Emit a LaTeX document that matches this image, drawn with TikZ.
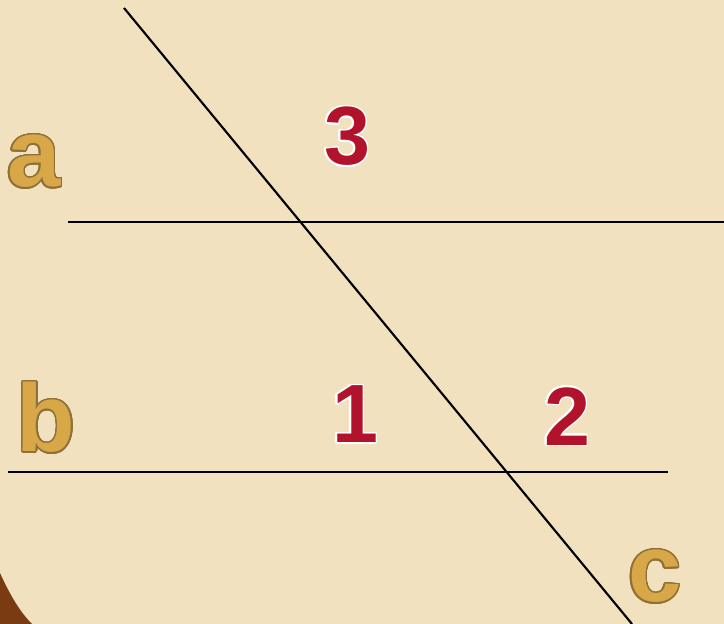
\documentclass[tikz,border=0pt]{standalone}
\usepackage{fontspec}
\setmainfont{Liberation Sans}
\usepackage{contour}
\usepackage{tikz}
\usetikzlibrary{positioning}

\definecolor{parchment}{HTML}{F1E1BE}
\definecolor{corner}{HTML}{7A3A12}
\definecolor{gold}{HTML}{D8A748}
\definecolor{goldedge}{HTML}{8E7038}
\definecolor{anglered}{HTML}{B3122C}

\contourlength{1.1pt}
\contournumber{24}

\tikzset{
  linelabel/.style={inner sep=0pt, font=\fontsize{72}{72}\selectfont\bfseries, text=gold},
  anglelabel/.style={inner sep=0pt, font=\fontsize{62}{62}\selectfont\bfseries, text=anglered},
  transversal/.style={line width=1.6pt, black}
}

\newcommand{\goldtext}[1]{\contour{goldedge}{#1}}
\newcommand{\redtext}[1]{\contour{white}{#1}}

\begin{document}
\begin{tikzpicture}[x=0.75pt,y=-0.75pt]

  % Background
  \fill[parchment] (0,0) rectangle (724,624);
  \fill[corner] (0,573) .. controls (10,595) and (20,612) .. (32,624) -- (0,624) -- cycle;
  \useasboundingbox (0,0) rectangle (724,624);

  % Define nodes
  \coordinate (a1) at (68,222);
  \coordinate (a2) at (724,222);
  \coordinate (b1) at (8,472);
  \coordinate (b2) at (668,472);
  \coordinate (c1) at (124,8);
  \coordinate (c2) at (632,624);

  \node[linelabel] (la) at (34,162) {\goldtext{a}};
  \node[linelabel] (lb) at (46,418) {\goldtext{b}};
  \node[linelabel] (lc) at (655,577) {\goldtext{c}};

  \node[anglelabel] (n3) at (347,137) {\redtext{3}};
  \node[anglelabel] (n1) at (355,415) {\redtext{1}};
  \node[anglelabel] (n2) at (567,417) {\redtext{2}};

  % Lines
  \draw[transversal] (a1) -- (a2);
  \draw[transversal] (b1) -- (b2);
  \draw[transversal] (c1) -- (c2);

\end{tikzpicture}
\end{document}
